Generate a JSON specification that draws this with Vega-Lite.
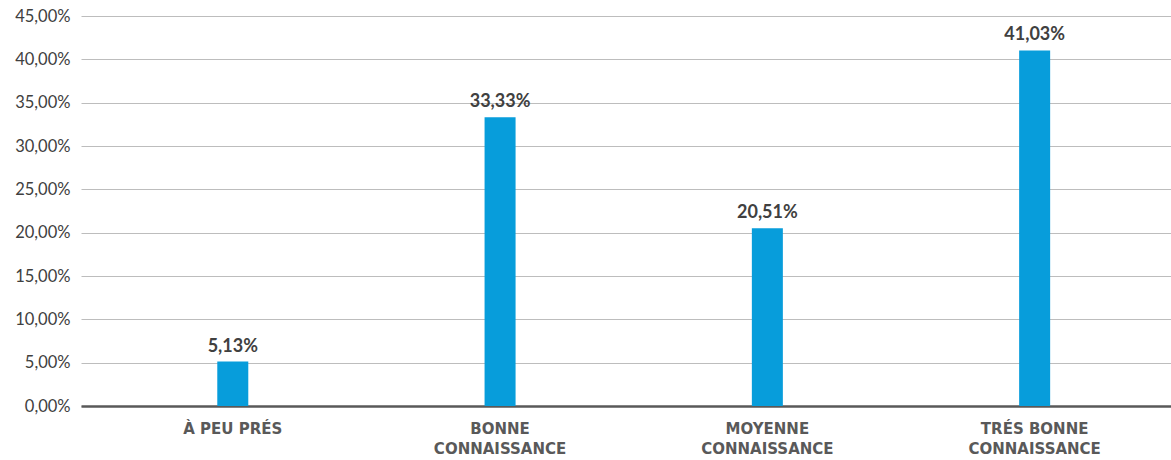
{
  "$schema": "https://vega.github.io/schema/vega-lite/v6.json",
  "width": 1090,
  "height": 390,
  "autosize": {"type": "none"},
  "padding": {"left": 81, "top": 16, "right": 0, "bottom": 54},
  "config": {
    "view": {"stroke": null},
    "locale": {"number": {"decimal": ",", "thousands": " ", "grouping": [3], "currency": ["", " €"], "percent": "%"}},
    "font": "Lato"
  },
  "data": {
    "values": [
      {"categorie": "À peu prés", "part": 0.0513},
      {"categorie": "Bonne connaissance", "part": 0.3333},
      {"categorie": "Moyenne connaissance", "part": 0.2051},
      {"categorie": "Trés bonne connaissance", "part": 0.4103}
    ]
  },
  "encoding": {
    "x": {
      "field": "categorie",
      "type": "nominal",
      "sort": null,
      "scale": {"paddingInner": 0.884, "paddingOuter": 0.481, "align": 0.53},
      "axis": {
        "title": null,
        "labelAngle": 0,
        "ticks": false,
        "domainColor": "#595959",
        "domainWidth": 2.5,
        "labelFont": "DejaVu Sans",
        "labelFontSize": 15,
        "labelFontWeight": "bold",
        "labelColor": "#595959",
        "labelPadding": 15,
        "labelLineHeight": 20,
        "labelBaseline": "top",
        "labelExpr": "datum.label == 'À peu prés' ? upper(datum.label) : [upper(substring(datum.label, 0, lastindexof(datum.label, ' '))), upper(substring(datum.label, lastindexof(datum.label, ' ') + 1))]"
      }
    },
    "y": {
      "field": "part",
      "type": "quantitative",
      "scale": {"domain": [0, 0.45], "nice": false},
      "axis": {
        "title": null,
        "values": [0, 0.05, 0.1, 0.15, 0.2, 0.25, 0.3, 0.35, 0.4, 0.45],
        "format": ".2%",
        "domain": false,
        "ticks": false,
        "gridColor": "#bdbdbd",
        "gridWidth": 1,
        "labelFont": "Lato",
        "labelFontSize": 16.5,
        "labelColor": "#404040",
        "labelPadding": 11
      }
    }
  },
  "layer": [
    {"mark": {"type": "bar", "color": "#079ddb"}},
    {
      "mark": {"type": "text", "dy": -15, "fontSize": 18, "fontWeight": "bold", "color": "#404040", "font": "Lato"},
      "encoding": {"text": {"field": "part", "type": "quantitative", "format": ".2%"}}
    }
  ]
}
